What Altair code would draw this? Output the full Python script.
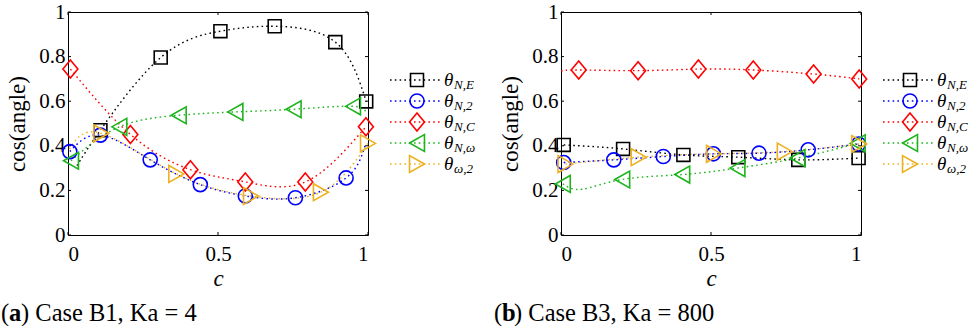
import altair as alt
import pandas as pd

# ---------------------------------------------------------------------------
# Series definitions
# ---------------------------------------------------------------------------
KEYS = ["NE", "N2", "NC", "Nw", "w2"]
SUBS = ["N,E", "N,2", "N,C", "N,ω", "ω,2"]
COLORS = ["#000000", "#0000ff", "#ff0000", "#1eb41e", "#edb120"]
# open marker outlines in the unit box [-1, 1]
SHAPES = [
    "M-0.72,-0.72L0.72,-0.72L0.72,0.72L-0.72,0.72Z",
    "M-0.78,0A0.78,0.78 0 1,0 0.78,0A0.78,0.78 0 1,0 -0.78,0Z",
    "M0,-1L0.83,0L0,1L-0.83,0Z",
    "M-0.83,0L0.83,-0.94L0.83,0.94Z",
    "M0.83,0L-0.83,-0.94L-0.83,0.94Z",
]
Y_TICKS = [0, 0.2, 0.4, 0.6, 0.8, 1]
X_TICKS = [0, 0.5, 1]

# ---------------------------------------------------------------------------
# (a) Case B1, Ka = 4 : marker samples (c, cos(angle))
# ---------------------------------------------------------------------------
B1_NE_C = [0.108, 0.309, 0.508, 0.689, 0.891, 0.994]
B1_NE_V = [0.470, 0.796, 0.914, 0.936, 0.865, 0.599]
B1_N2_C = [0.006, 0.108, 0.274, 0.441, 0.591, 0.758, 0.927]
B1_N2_V = [0.374, 0.448, 0.337, 0.226, 0.175, 0.167, 0.256]
B1_NC_C = [0.008, 0.208, 0.408, 0.591, 0.791, 0.993]
B1_NC_V = [0.744, 0.451, 0.293, 0.238, 0.238, 0.485]
B1_NW_C = [0.010, 0.171, 0.369, 0.558, 0.752, 0.950]
B1_NW_V = [0.333, 0.485, 0.537, 0.552, 0.564, 0.577]
B1_W2_C = [0.111, 0.361, 0.610, 0.843, 1.000]
B1_W2_V = [0.456, 0.274, 0.175, 0.192, 0.411]
# curve points beyond the markers
B1_NE_END_C, B1_NE_END_V = [0.030], [0.311]
B1_N2_END_C, B1_N2_END_V = [0.990], [0.400]
B1_NC_END_C, B1_NC_END_V = [], []
B1_NW_END_C, B1_NW_END_V = [0.991], [0.545]
B1_W2_END_C, B1_W2_END_V = [0.005], [0.385]

# ---------------------------------------------------------------------------
# (b) Case B3, Ka = 800
# ---------------------------------------------------------------------------
B3_NE_C = [0.009, 0.207, 0.408, 0.591, 0.791, 0.992]
B3_NE_V = [0.404, 0.386, 0.359, 0.349, 0.337, 0.345]
B3_N2_C = [0.009, 0.176, 0.341, 0.508, 0.660, 0.824, 0.992]
B3_N2_V = [0.325, 0.337, 0.352, 0.364, 0.367, 0.382, 0.408]
B3_NC_C = [0.059, 0.257, 0.458, 0.641, 0.842, 0.994]
B3_NC_V = [0.740, 0.737, 0.744, 0.740, 0.722, 0.700]
B3_NW_C = [0.006, 0.204, 0.404, 0.588, 0.788, 0.989]
B3_NW_V = [0.229, 0.249, 0.271, 0.300, 0.345, 0.411]
B3_W2_C = [0.015, 0.259, 0.510, 0.746, 0.994]
B3_W2_V = [0.318, 0.349, 0.364, 0.374, 0.408]
B3_NE_END_C, B3_NE_END_V = [], []
B3_N2_END_C, B3_N2_END_V = [], []
B3_NC_END_C, B3_NC_END_V = [0.0], [0.735]
B3_NW_END_C, B3_NW_END_V = [0.070], [0.205]
B3_W2_END_C, B3_W2_END_V = [], []

SERIF = "Liberation Serif"


def frames(marks, ends):
    pts, crv = [], []
    for key, (cs, vs), (ec, ev) in zip(KEYS, marks, ends):
        for c, v in zip(cs, vs):
            pts.append({"key": key, "c": c, "v": v})
        for c, v in sorted(list(zip(cs, vs)) + list(zip(ec, ev))):
            crv.append({"key": key, "c": c, "v": v})
    return pd.DataFrame(pts), pd.DataFrame(crv)


W, H = 300, 223
xs = alt.Scale(domain=[0, 1], nice=False, zero=False)
ys = alt.Scale(domain=[0, 1], nice=False, zero=False)
col = alt.Color("key:N", scale=alt.Scale(domain=KEYS, range=COLORS), legend=None)
shp = alt.Shape("key:N", scale=alt.Scale(domain=KEYS, range=SHAPES), legend=None)

# shared x axis (every layer with an x field carries the same definition)
X_AXIS = alt.Axis(
    values=X_TICKS, format="~g", title="c", ticks=False, domain=False,
    grid=False, labelPadding=8, titlePadding=3,
    labelFont=SERIF, labelFontSize=21, labelColor="black",
    titleFont=SERIF, titleFontSize=23, titleFontStyle="italic",
    titleFontWeight="normal", titleColor="black",
)
Y_AXIS = alt.Axis(
    values=Y_TICKS, format="~g", title="cos(angle)", ticks=False,
    domain=False, grid=False, labelPadding=3, titlePadding=9,
    labelFont=SERIF, labelFontSize=21, labelColor="black",
    titleFont=SERIF, titleFontSize=23, titleFontWeight="normal",
    titleColor="black",
)
X = alt.X("c:Q", scale=xs, axis=X_AXIS)


def panel(marks, ends, letter, rest):
    pts, crv = frames(marks, ends)
    yt = pd.DataFrame({"v": Y_TICKS})
    xt = pd.DataFrame({"c": X_TICKS})
    one = pd.DataFrame({"n": [0]})

    lines = alt.Chart(crv).mark_line(
        interpolate="natural", strokeDash=[1.6, 3.2], strokeWidth=1.4
    ).encode(
        x=X,
        y=alt.Y("v:Q", scale=ys, axis=Y_AXIS),
        color=col, detail="key:N",
    )
    points = alt.Chart(pts).mark_point(
        filled=False, size=324, strokeWidth=1.6, opacity=1
    ).encode(
        x=X,
        y=alt.Y("v:Q", scale=ys, axis=None),
        color=col, shape=shp,
    )

    # inward tick marks on all four sides
    tick_kw = dict(color="black", strokeWidth=1)
    ytl = alt.Chart(yt).mark_rule(**tick_kw).encode(
        y=alt.Y("v:Q", scale=ys, axis=None), x=alt.value(0), x2=alt.value(3))
    ytr = alt.Chart(yt).mark_rule(**tick_kw).encode(
        y=alt.Y("v:Q", scale=ys, axis=None), x=alt.value(W - 3), x2=alt.value(W))
    xtb = alt.Chart(xt).mark_rule(**tick_kw).encode(
        x=X, y=alt.value(H - 3), y2=alt.value(H))
    xtt = alt.Chart(xt).mark_rule(**tick_kw).encode(
        x=X, y=alt.value(0), y2=alt.value(3))

    # legend block at the right of the axes
    leg = pd.DataFrame({"key": KEYS, "sub": SUBS, "row": list(range(len(KEYS)))})
    ly = alt.Y("row:Q", scale=alt.Scale(domain=[0, 4], range=[68, 152]), axis=None)
    leg_line = alt.Chart(leg).mark_rule(strokeDash=[1.6, 3.2], strokeWidth=1.4).encode(
        x=alt.value(322), x2=alt.value(374), y=ly, color=col)
    leg_pt = alt.Chart(leg).mark_point(
        filled=False, size=324, strokeWidth=1.6, opacity=1
    ).encode(x=alt.value(349), y=ly, color=col, shape=shp)
    leg_th = alt.Chart(leg).mark_text(
        font=SERIF, fontSize=19, fontStyle="italic", align="left", baseline="middle"
    ).encode(x=alt.value(376), y=ly, text=alt.value("θ"))
    leg_sub = alt.Chart(leg).mark_text(
        font=SERIF, fontSize=13, fontStyle="italic", align="left",
        baseline="middle", dy=5
    ).encode(x=alt.value(386), y=ly, text="sub:N")

    # sub-figure caption
    cap_kw = dict(font=SERIF, fontSize=24.5, align="left", baseline="middle")
    cy = alt.value(302)
    cap1 = alt.Chart(one).mark_text(**cap_kw).encode(
        x=alt.value(-67), y=cy, text=alt.value("("))
    cap2 = alt.Chart(one).mark_text(fontWeight="bold", **cap_kw).encode(
        x=alt.value(-59), y=cy, text=alt.value(letter))
    cap3 = alt.Chart(one).mark_text(**cap_kw).encode(
        x=alt.value(-47), y=cy, text=alt.value(rest))

    return alt.layer(
        ytl, ytr, xtb, xtt, lines, points,
        leg_line, leg_pt, leg_th, leg_sub, cap1, cap2, cap3,
    ).resolve_scale(y="independent").properties(width=W, height=H)


B1_MARKS = [(B1_NE_C, B1_NE_V), (B1_N2_C, B1_N2_V), (B1_NC_C, B1_NC_V),
            (B1_NW_C, B1_NW_V), (B1_W2_C, B1_W2_V)]
B1_ENDS = [(B1_NE_END_C, B1_NE_END_V), (B1_N2_END_C, B1_N2_END_V),
           (B1_NC_END_C, B1_NC_END_V), (B1_NW_END_C, B1_NW_END_V),
           (B1_W2_END_C, B1_W2_END_V)]
B3_MARKS = [(B3_NE_C, B3_NE_V), (B3_N2_C, B3_N2_V), (B3_NC_C, B3_NC_V),
            (B3_NW_C, B3_NW_V), (B3_W2_C, B3_W2_V)]
B3_ENDS = [(B3_NE_END_C, B3_NE_END_V), (B3_N2_END_C, B3_N2_END_V),
           (B3_NC_END_C, B3_NC_END_V), (B3_NW_END_C, B3_NW_END_V),
           (B3_W2_END_C, B3_W2_END_V)]

left = panel(B1_MARKS, B1_ENDS, "a", ") Case B1, Ka = 4")
right = panel(B3_MARKS, B3_ENDS, "b", ") Case B3, Ka = 800")

chart = alt.hconcat(left, right, spacing=193, bounds="flush").properties(
    padding={"left": 0, "top": 0, "right": 0, "bottom": 0},
    background="white",
).configure_view(
    stroke="black", strokeWidth=1
)

chart.save("out.html", embed_options={"renderer": "svg", "actions": False})
